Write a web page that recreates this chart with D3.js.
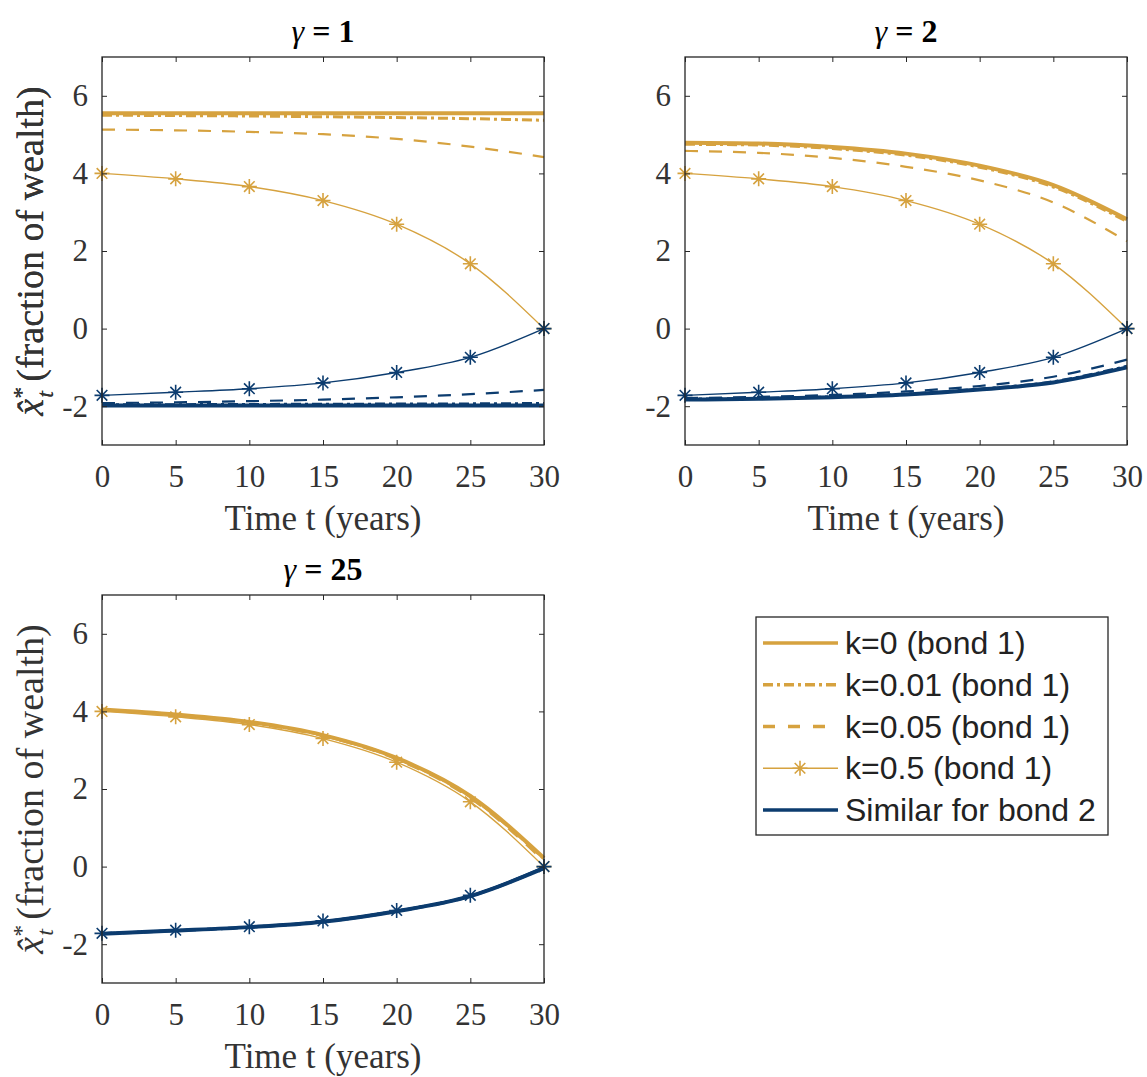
<!DOCTYPE html>
<html>
<head>
<meta charset="utf-8">
<script src="https://cdn.jsdelivr.net/npm/d3@7"></script>
<style>
    body { margin: 0; background: #fff; }
    svg { display: block; }
</style>
</head>
<body>
<script>
// time grid (years) and axis ticks
var years = [0, 5, 10, 15, 20, 25, 30];
var xTicks = [0, 5, 10, 15, 20, 25, 30];
var yTicks = [-2, 0, 2, 4, 6];
var gammas = ["1", "2", "25"];
var legendLabels = ["k=0 (bond 1)", "k=0.01 (bond 1)", "k=0.05 (bond 1)", "k=0.5 (bond 1)", "Similar for bond 2"];

// gamma = 1
var g1Bond1K0 = [5.55, 5.55, 5.55, 5.55, 5.55, 5.55, 5.55];
var g1Bond1K001 = [5.5, 5.49, 5.48, 5.46, 5.44, 5.41, 5.37];
var g1Bond1K005 = [5.13, 5.11, 5.07, 5.01, 4.89, 4.69, 4.42];
var g1Bond1K05 = [4.0, 3.86, 3.66, 3.3, 2.69, 1.67, 0];
var g1Bond2K0 = [-1.98, -1.98, -1.98, -1.98, -1.98, -1.98, -1.98];
var g1Bond2K001 = [-1.96, -1.96, -1.955, -1.95, -1.945, -1.94, -1.93];
var g1Bond2K005 = [-1.92, -1.9, -1.87, -1.83, -1.77, -1.69, -1.58];
var g1Bond2K05 = [-1.72, -1.64, -1.55, -1.4, -1.13, -0.74, 0];

// gamma = 2
var g2Bond1K0 = [4.79, 4.77, 4.68, 4.51, 4.2, 3.7, 2.82];
var g2Bond1K001 = [4.75, 4.73, 4.64, 4.47, 4.16, 3.65, 2.76];
var g2Bond1K005 = [4.58, 4.53, 4.4, 4.17, 3.82, 3.25, 2.25];
var g2Bond1K05 = [4.0, 3.86, 3.66, 3.3, 2.69, 1.67, 0];
var g2Bond2K0 = [-1.83, -1.81, -1.77, -1.7, -1.57, -1.39, -1.0];
var g2Bond2K001 = [-1.82, -1.8, -1.76, -1.69, -1.56, -1.37, -0.97];
var g2Bond2K005 = [-1.79, -1.76, -1.71, -1.62, -1.48, -1.24, -0.8];
var g2Bond2K05 = [-1.72, -1.64, -1.55, -1.4, -1.13, -0.74, 0];

// gamma = 25
var g25Bond1K0 = [4.05, 3.92, 3.73, 3.39, 2.8, 1.82, 0.22];
var g25Bond1K001 = [4.04, 3.91, 3.72, 3.38, 2.79, 1.8, 0.2];
var g25Bond1K005 = [4.03, 3.9, 3.7, 3.36, 2.76, 1.76, 0.14];
var g25Bond1K05 = [4.0, 3.86, 3.66, 3.3, 2.69, 1.67, 0];
var g25Bond2K0 = [-1.73, -1.65, -1.56, -1.42, -1.15, -0.76, -0.04];
var g25Bond2K001 = [-1.73, -1.65, -1.56, -1.42, -1.15, -0.76, -0.04];
var g25Bond2K005 = [-1.72, -1.645, -1.555, -1.41, -1.14, -0.75, -0.03];
var g25Bond2K05 = [-1.72, -1.64, -1.55, -1.4, -1.13, -0.74, 0];

(function () {
    var width = 1147, height = 1077;
    var gold = "#d6a23f", navy = "#0c3c6f";
    var axisColor = "#262626", textColor = "#333";
    var serif = "'Liberation Serif', 'Times New Roman', serif";
    var sans = "'Liberation Sans', Arial, sans-serif";

    // line styles for k = 0, 0.01, 0.05, 0.5
    var styles = [
        { width: 4, dash: null, marker: false },
        { width: 3, dash: "10,4,3,4", marker: false },
        { width: 2.2, dash: "13,11", marker: false },
        { width: 1.4, dash: null, marker: true }
    ];

    var panels = [
        { gamma: gammas[0], left: 102, top: 57,
          bond1: [g1Bond1K0, g1Bond1K001, g1Bond1K005, g1Bond1K05],
          bond2: [g1Bond2K0, g1Bond2K001, g1Bond2K005, g1Bond2K05] },
        { gamma: gammas[1], left: 685, top: 57,
          bond1: [g2Bond1K0, g2Bond1K001, g2Bond1K005, g2Bond1K05],
          bond2: [g2Bond2K0, g2Bond2K001, g2Bond2K005, g2Bond2K05] },
        { gamma: gammas[2], left: 102, top: 595,
          bond1: [g25Bond1K0, g25Bond1K001, g25Bond1K005, g25Bond1K05],
          bond2: [g25Bond2K0, g25Bond2K001, g25Bond2K005, g25Bond2K05] }
    ];
    var pw = 442, ph = 388;

    var svg = d3.select("body").append("svg")
        .attr("width", width)
        .attr("height", height)
        .style("background", "#fff");

    // asterisk marker (plus + cross)
    function star(cx, cy, r) {
        var d = r * 0.7071;
        return "M" + (cx - r) + "," + cy + "h" + (2 * r) +
            "M" + cx + "," + (cy - r) + "v" + (2 * r) +
            "M" + (cx - d) + "," + (cy - d) + "l" + (2 * d) + "," + (2 * d) +
            "M" + (cx - d) + "," + (cy + d) + "l" + (2 * d) + "," + (-2 * d);
    }

    // plain hyphen for negative tick labels
    function tickText(d) {
        return String(d);
    }

    panels.forEach(function (p) {
        var x = d3.scaleLinear().domain([0, 30]).range([0, pw]);
        var y = d3.scaleLinear().domain([-3, 7]).range([ph, 0]);
        var g = svg.append("g").attr("transform", "translate(" + p.left + "," + p.top + ")");

        var line = d3.line()
            .x(function (d, i) { return x(years[i]); })
            .y(function (d) { return y(d); })
            .curve(d3.curveMonotoneX);

        function drawSeries(list, color) {
            list.forEach(function (vals, k) {
                var s = styles[k];
                g.append("path")
                    .attr("d", line(vals))
                    .attr("fill", "none")
                    .attr("stroke", color)
                    .attr("stroke-width", s.width)
                    .attr("stroke-dasharray", s.dash)
                    .attr("stroke-linejoin", "round");
                if (s.marker) {
                    g.selectAll(null)
                        .data(vals)
                        .enter()
                        .append("path")
                        .attr("d", function (d, i) { return star(x(years[i]), y(d), 7.5); })
                        .attr("fill", "none")
                        .attr("stroke", color)
                        .attr("stroke-width", 1.6);
                }
            });
        }
        drawSeries(p.bond1, gold);
        drawSeries(p.bond2, navy);

        // axes with inward ticks on all sides
        var xb = g.append("g").attr("transform", "translate(0," + ph + ")")
            .call(d3.axisBottom(x).tickValues(xTicks).tickSizeInner(-5).tickSizeOuter(0).tickFormat(tickText));
        var xt = g.append("g")
            .call(d3.axisTop(x).tickValues(xTicks).tickSizeInner(-5).tickSizeOuter(0).tickFormat(""));
        var yl = g.append("g")
            .call(d3.axisLeft(y).tickValues(yTicks).tickSizeInner(-5).tickSizeOuter(0).tickPadding(14).tickFormat(tickText));
        var yr = g.append("g").attr("transform", "translate(" + pw + ",0)")
            .call(d3.axisRight(y).tickValues(yTicks).tickSizeInner(-5).tickSizeOuter(0).tickFormat(""));

        [xb, xt, yl, yr].forEach(function (a) {
            a.select(".domain").remove();
            a.selectAll("line").attr("stroke", axisColor).attr("stroke-width", 1);
            a.selectAll("text")
                .attr("fill", textColor)
                .style("font-family", serif)
                .style("font-size", "31px");
        });
        xb.selectAll("text").attr("dy", "0.71em").attr("y", 20);

        g.append("rect")
            .attr("width", pw)
            .attr("height", ph)
            .attr("fill", "none")
            .attr("stroke", axisColor)
            .attr("stroke-width", 1.3);

        // title
        var title = g.append("text")
            .attr("x", pw / 2)
            .attr("y", -15)
            .attr("text-anchor", "middle")
            .attr("fill", "#000")
            .style("font-family", serif)
            .style("font-size", "32px");
        title.append("tspan").style("font-style", "italic").text("\u03b3");
        title.append("tspan").style("font-weight", "bold").text(" = " + p.gamma);

        // x label
        g.append("text")
            .attr("x", pw / 2)
            .attr("y", ph + 85)
            .attr("text-anchor", "middle")
            .attr("fill", textColor)
            .style("font-family", serif)
            .style("font-size", "35px")
            .text("Time t (years)");

        // y label: x-hat with * superscript and t subscript
        var ylab = g.append("text")
            .attr("transform", "translate(" + (43 - p.left) + "," + (ph / 2) + ") rotate(-90)")
            .attr("text-anchor", "middle")
            .attr("fill", textColor)
            .style("font-family", serif)
            .style("font-size", "38px");
        ylab.append("tspan").style("font-style", "italic").text("x\u0302");
        ylab.append("tspan").attr("dy", -14).style("font-size", "24px").text("*");
        ylab.append("tspan").attr("dx", -11).attr("dy", 24).style("font-size", "24px").style("font-style", "italic").text("t");
        ylab.append("tspan").attr("dy", -10).text("  (fraction of wealth)");
    });

    // legend
    var lg = svg.append("g").attr("transform", "translate(756,617)");
    lg.append("rect")
        .attr("width", 352)
        .attr("height", 218)
        .attr("fill", "#fff")
        .attr("stroke", axisColor)
        .attr("stroke-width", 1.3);

    var rowY = d3.scalePoint().domain(legendLabels).range([26, 193]);
    legendLabels.forEach(function (lab, i) {
        var cy = rowY(lab);
        var s = i < 4 ? styles[i] : styles[0];
        var color = i < 4 ? gold : navy;
        lg.append("line")
            .attr("x1", 7).attr("x2", 82)
            .attr("y1", cy).attr("y2", cy)
            .attr("stroke", color)
            .attr("stroke-width", i < 3 || i === 4 ? 3.5 : s.width)
            .attr("stroke-dasharray", i === 2 ? "12,13" : s.dash);
        if (s.marker) {
            lg.append("path")
                .attr("d", star(44, cy, 7.5))
                .attr("fill", "none")
                .attr("stroke", color)
                .attr("stroke-width", 1.6);
        }
        lg.append("text")
            .attr("x", 89)
            .attr("y", cy + 11)
            .attr("fill", "#222")
            .style("font-family", sans)
            .style("font-size", "32px")
            .text(lab);
    });
})();
</script>
</body>
</html>
